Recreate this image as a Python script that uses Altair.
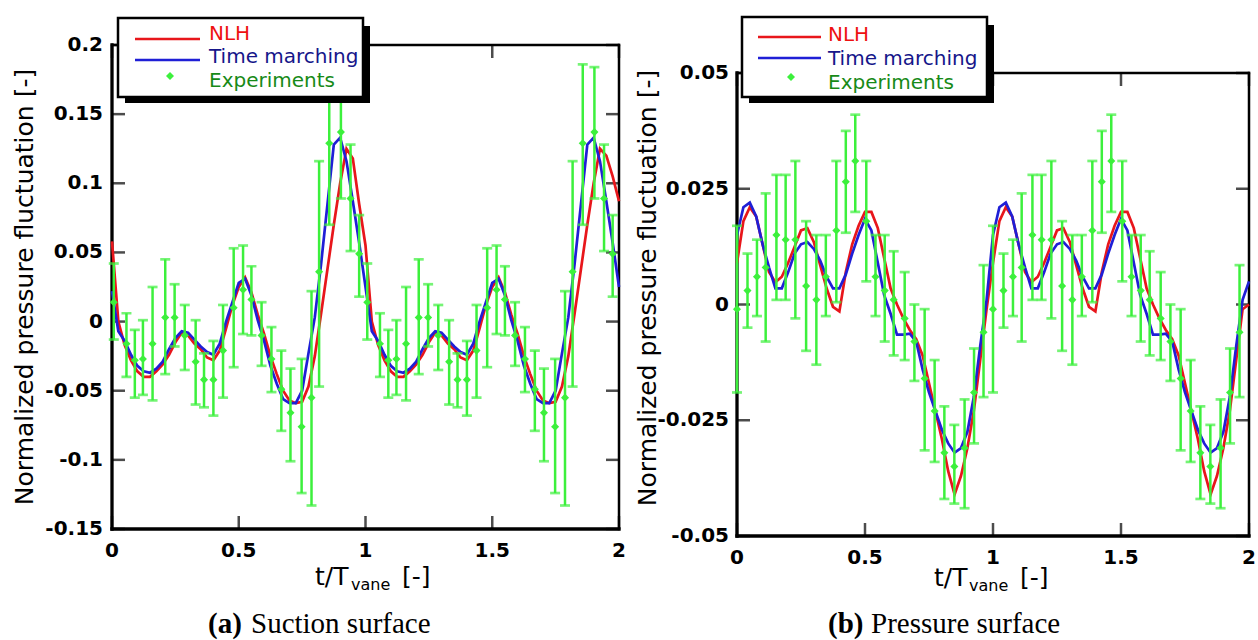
import altair as alt
import pandas as pd

# ---------------- data ----------------
X_TICKS = [0, 0.5, 1, 1.5, 2]
X_LABELS = ["0", "0.5", "1", "1.5", "2"]
Y_TICKS_A = [-0.15, -0.1, -0.05, 0, 0.05, 0.1, 0.15, 0.2]
Y_LABELS_A = ["-0.15", "-0.1", "-0.05", "0", "0.05", "0.1", "0.15", "0.2"]
Y_TICKS_B = [-0.05, -0.025, 0, 0.025, 0.05]
Y_LABELS_B = ["-0.05", "-0.025", "0", "0.025", "0.05"]

# sampling grid of the two computed curves (t/T_vane)
T_LINE = [round(i * 0.025, 3) for i in range(81)]

# (a) suction surface
A_NLH = [
    0.058, 0.000, -0.017, -0.028, -0.036, -0.040, -0.040, -0.036, -0.031, -0.024,
    -0.015, -0.008, -0.010, -0.016, -0.020, -0.026, -0.028, -0.021, -0.005, 0.012,
    0.025, 0.032, 0.021, 0.005, -0.009, -0.025, -0.038, -0.050, -0.057, -0.059,
    -0.058, -0.047, -0.025, 0.006, 0.038, 0.070, 0.100, 0.125, 0.118, 0.085,
    0.055, 0.000, -0.017, -0.028, -0.036, -0.040, -0.040, -0.036, -0.031, -0.024,
    -0.015, -0.008, -0.010, -0.016, -0.020, -0.026, -0.028, -0.021, -0.005, 0.012,
    0.025, 0.032, 0.021, 0.005, -0.009, -0.025, -0.038, -0.050, -0.057, -0.059,
    -0.058, -0.047, -0.025, 0.006, 0.038, 0.070, 0.100, 0.125, 0.120, 0.105,
    0.087,
]
A_TM = [
    0.022, -0.007, -0.014, -0.024, -0.032, -0.036, -0.037, -0.034, -0.029, -0.020,
    -0.012, -0.007, -0.008, -0.013, -0.018, -0.022, -0.024, -0.016, 0.000, 0.014,
    0.028, 0.031, 0.019, 0.001, -0.014, -0.032, -0.045, -0.056, -0.059, -0.059,
    -0.050, -0.023, 0.003, 0.042, 0.085, 0.128, 0.133, 0.116, 0.087, 0.057,
    0.025, -0.007, -0.014, -0.024, -0.032, -0.036, -0.037, -0.034, -0.029, -0.020,
    -0.012, -0.007, -0.008, -0.013, -0.018, -0.022, -0.024, -0.016, 0.000, 0.014,
    0.028, 0.031, 0.019, 0.001, -0.014, -0.032, -0.045, -0.056, -0.059, -0.059,
    -0.050, -0.023, 0.003, 0.042, 0.085, 0.128, 0.133, 0.116, 0.087, 0.057,
    0.025,
]
A_EXP_T = [
    0.007, 0.057, 0.090, 0.122, 0.160, 0.210, 0.247, 0.287, 0.330, 0.363, 0.400, 0.438, 0.480,
    0.517, 0.550, 0.590, 0.629, 0.668, 0.704, 0.748, 0.787, 0.817, 0.857, 0.903, 0.941, 0.975,
    1.007, 1.057, 1.090, 1.122, 1.160, 1.210, 1.247, 1.287, 1.330, 1.363, 1.400, 1.438, 1.480,
    1.517, 1.550, 1.590, 1.629, 1.668, 1.704, 1.748, 1.787, 1.817, 1.857, 1.903, 1.941, 1.975,
]
A_EXP_V = [
    0.014, -0.016, -0.028, -0.027, -0.016, 0.003, 0.003, -0.010, -0.029, -0.042, -0.042, -0.021, 0.010,
    0.023, 0.016, -0.010, -0.027, -0.049, -0.066, -0.076, -0.055, 0.036, 0.129, 0.137, 0.089, 0.049,
    0.014, -0.016, -0.028, -0.027, -0.016, 0.003, 0.003, -0.010, -0.029, -0.042, -0.042, -0.021, 0.010,
    0.023, 0.016, -0.010, -0.027, -0.049, -0.066, -0.076, -0.055, 0.036, 0.129, 0.137, 0.089, 0.049,
]
A_EXP_LO = [
    -0.013, -0.040, -0.055, -0.053, -0.057, -0.038, -0.018, -0.035, -0.060, -0.062, -0.068, -0.055, -0.033,
    -0.009, -0.010, -0.032, -0.051, -0.079, -0.101, -0.124, -0.133, -0.047, 0.070, 0.089, 0.051, 0.018,
    -0.013, -0.040, -0.055, -0.053, -0.057, -0.038, -0.018, -0.035, -0.060, -0.062, -0.068, -0.055, -0.033,
    -0.009, -0.010, -0.032, -0.051, -0.079, -0.101, -0.124, -0.133, -0.047, 0.070, 0.089, 0.051, 0.018,
]
A_EXP_HI = [
    0.042, 0.006, -0.006, 0.001, 0.025, 0.045, 0.027, 0.012, 0.001, -0.023, -0.014, 0.012, 0.053,
    0.055, 0.040, 0.014, -0.004, -0.021, -0.034, -0.027, 0.022, 0.116, 0.186, 0.184, 0.128, 0.077,
    0.042, 0.006, -0.006, 0.001, 0.025, 0.045, 0.027, 0.012, 0.001, -0.023, -0.014, 0.012, 0.053,
    0.055, 0.040, 0.014, -0.004, -0.021, -0.034, -0.027, 0.022, 0.116, 0.186, 0.184, 0.128, 0.077,
]

# (b) pressure surface
B_NLH = [
    0.009, 0.018, 0.021, 0.019, 0.013, 0.007, 0.0048, 0.006, 0.009, 0.0125,
    0.016, 0.0165, 0.0135, 0.0085, 0.0035, -0.0005, -0.0015, 0.007, 0.013, 0.017,
    0.020, 0.020, 0.0165, 0.010, 0.0035, 0.000, -0.003, -0.0055, -0.0075, -0.011,
    -0.017, -0.023, -0.029, -0.036, -0.041, -0.037, -0.031, -0.023, -0.012, -0.001,
    0.009, 0.018, 0.021, 0.019, 0.013, 0.007, 0.0048, 0.006, 0.009, 0.0125,
    0.016, 0.0165, 0.0135, 0.0085, 0.0035, -0.0005, -0.0015, 0.007, 0.013, 0.017,
    0.020, 0.020, 0.0165, 0.010, 0.0035, 0.000, -0.003, -0.0055, -0.0075, -0.011,
    -0.017, -0.023, -0.029, -0.036, -0.041, -0.037, -0.031, -0.023, -0.012, -0.001,
    0.000,
]
B_TM = [
    0.015, 0.021, 0.022, 0.019, 0.013, 0.008, 0.0035, 0.0035, 0.007, 0.011,
    0.013, 0.0135, 0.012, 0.0095, 0.006, 0.0035, 0.0035, 0.0065, 0.011, 0.015,
    0.0185, 0.016, 0.009, 0.002, -0.002, -0.0065, -0.0065, -0.0063, -0.008, -0.014,
    -0.019, -0.023, -0.027, -0.030, -0.032, -0.031, -0.0275, -0.020, -0.009, 0.001,
    0.015, 0.021, 0.022, 0.019, 0.013, 0.008, 0.0035, 0.0035, 0.007, 0.011,
    0.013, 0.0135, 0.012, 0.0095, 0.006, 0.0035, 0.0035, 0.0065, 0.011, 0.015,
    0.0185, 0.016, 0.009, 0.002, -0.002, -0.0065, -0.0065, -0.0063, -0.008, -0.014,
    -0.019, -0.023, -0.027, -0.030, -0.032, -0.031, -0.0275, -0.020, -0.009, 0.001,
    0.005,
]
B_EXP_T = [
    0.000, 0.041, 0.078, 0.112, 0.154, 0.190, 0.228, 0.270, 0.310, 0.347, 0.388, 0.425, 0.462,
    0.505, 0.541, 0.577, 0.612, 0.655, 0.693, 0.733, 0.772, 0.810, 0.849, 0.889, 0.926, 0.963,
    1.000, 1.041, 1.078, 1.112, 1.154, 1.190, 1.228, 1.270, 1.310, 1.347, 1.388, 1.425, 1.462,
    1.505, 1.541, 1.577, 1.612, 1.655, 1.693, 1.733, 1.772, 1.810, 1.849, 1.889, 1.926, 1.963,
]
B_EXP_V = [
    -0.001, 0.003, 0.006, 0.008, 0.015, 0.014, 0.014, 0.004, 0.001, 0.006, 0.016, 0.0265, 0.031,
    0.018, 0.006, 0.003, 0.001, -0.003, -0.008, -0.016, -0.023, -0.032, -0.035, -0.031, -0.019, -0.006,
    -0.001, 0.003, 0.006, 0.008, 0.015, 0.014, 0.014, 0.004, 0.001, 0.006, 0.016, 0.0265, 0.031,
    0.018, 0.006, 0.003, 0.001, -0.003, -0.008, -0.016, -0.023, -0.032, -0.035, -0.031, -0.019, -0.006,
]
B_EXP_LO = [
    -0.019, -0.005, -0.0025, -0.008, 0.001, 0.001, -0.003, -0.010, -0.013, -0.0025, 0.0005, 0.0155, 0.020,
    0.005, -0.0025, -0.008, -0.011, -0.012, -0.0165, -0.0315, -0.034, -0.042, -0.043, -0.044, -0.030, -0.020,
    -0.019, -0.005, -0.0025, -0.008, 0.001, 0.001, -0.003, -0.010, -0.013, -0.0025, 0.0005, 0.0155, 0.020,
    0.005, -0.0025, -0.008, -0.011, -0.012, -0.0165, -0.0315, -0.034, -0.042, -0.043, -0.044, -0.030, -0.020,
]
B_EXP_HI = [
    0.017, 0.011, 0.014, 0.024, 0.028, 0.028, 0.031, 0.018, 0.015, 0.015, 0.031, 0.0375, 0.041,
    0.031, 0.015, 0.015, 0.0115, 0.007, 0.000, -0.001, -0.012, -0.022, -0.026, -0.0205, -0.0095, 0.0085,
    0.017, 0.011, 0.014, 0.024, 0.028, 0.028, 0.031, 0.018, 0.015, 0.015, 0.031, 0.0375, 0.041,
    0.031, 0.015, 0.015, 0.0115, 0.007, 0.000, -0.001, -0.012, -0.022, -0.026, -0.0205, -0.0095, 0.0085,
]

# ---------------- styling ----------------
RED = "#e8161b"
BLUE = "#1f1fd6"
GREEN = "#3cf03c"
TXT_RED = "#ee1111"
TXT_BLUE = "#16168a"
TXT_GREEN = "#178a17"
SANS = "DejaVu Sans"
SERIF = "Liberation Serif"


def panel_layers(nlh, tm, et, ev, elo, ehi, ydom, yticks, ylabels, xr, yr, lay):
    xs = alt.Scale(domain=[0, 2], range=xr, nice=False, zero=False)
    ys = alt.Scale(domain=ydom, range=yr, nice=False, zero=False)

    def X(f):
        return alt.X(f, type="quantitative", scale=xs, axis=None)

    def Y(f):
        return alt.Y(f, type="quantitative", scale=ys, axis=None)

    one = pd.DataFrame({"d": [0]})
    lines = pd.DataFrame({"t": T_LINE, "nlh": nlh, "tm": tm})
    exp = pd.DataFrame({"t": et, "v": ev, "lo": elo, "hi": ehi})
    xt = pd.DataFrame({"t": X_TICKS, "lab": X_LABELS, "ymin": ydom[0], "ymax": ydom[1]})
    yt = pd.DataFrame({"v": yticks, "lab": ylabels, "xmin": 0, "xmax": 2})
    frame = pd.DataFrame({
        "x": [0, 0, 0, 2], "x2": [0, 2, 2, 2],
        "y": [ydom[0], ydom[0], ydom[1], ydom[0]], "y2": [ydom[1], ydom[0], ydom[1], ydom[1]],
        "w": [3.3, 3.3, 2.3, 2.5],
    })

    L = []
    # frame and inward ticks on the four sides
    L.append(alt.Chart(frame).mark_rule(color="black", strokeCap="square").encode(
        x=X("x"), x2="x2", y=Y("y"), y2="y2", strokeWidth=alt.StrokeWidth("w:Q", scale=None)))
    L.append(alt.Chart(yt).mark_tick(color="black", orient="horizontal", size=13, thickness=2.5,
                                     xOffset=6.5).encode(x=X("xmin"), y=Y("v")))
    L.append(alt.Chart(yt).mark_tick(color="black", orient="horizontal", size=13, thickness=2.5,
                                     xOffset=-6.5).encode(x=X("xmax"), y=Y("v")))
    L.append(alt.Chart(xt).mark_tick(color="black", orient="vertical", size=13, thickness=2.5,
                                     yOffset=-6.5).encode(x=X("t"), y=Y("ymin")))
    L.append(alt.Chart(xt).mark_tick(color="black", orient="vertical", size=13, thickness=2.5,
                                     yOffset=6.5).encode(x=X("t"), y=Y("ymax")))
    # tick labels
    L.append(alt.Chart(yt).mark_text(align="right", baseline="middle", font=SANS, fontWeight="bold",
                                     fontSize=20, color="black", dx=-lay["ylp"]).encode(
        x=X("xmin"), y=Y("v"), text="lab:N"))
    L.append(alt.Chart(xt).mark_text(align="center", baseline="top", font=SANS, fontWeight="bold",
                                     fontSize=20, color="black", dy=12).encode(
        x=X("t"), y=Y("ymin"), text="lab:N"))

    # data
    L.append(alt.Chart(lines).mark_line(color=RED, strokeWidth=2.7).encode(x=X("t"), y=Y("nlh")))
    L.append(alt.Chart(lines).mark_line(color=BLUE, strokeWidth=2.7).encode(x=X("t"), y=Y("tm")))
    L.append(alt.Chart(exp).mark_rule(color=GREEN, strokeWidth=2.5).encode(x=X("t"), y=Y("lo"), y2="hi"))
    L.append(alt.Chart(exp).mark_tick(color=GREEN, orient="horizontal", size=10, thickness=2.7).encode(
        x=X("t"), y=Y("lo")))
    L.append(alt.Chart(exp).mark_tick(color=GREEN, orient="horizontal", size=10, thickness=2.7).encode(
        x=X("t"), y=Y("hi")))
    L.append(alt.Chart(exp).mark_point(color=GREEN, shape="diamond", filled=True, size=65, opacity=1).encode(
        x=X("t"), y=Y("v")))

    # legend box with drop shadow
    bx0, bx1, by0, by1 = lay["box"]
    L.append(alt.Chart(one).mark_rect(color="black").encode(
        x=alt.value(bx0 + 7), x2=alt.value(bx1 + 7), y=alt.value(by0 + 8), y2=alt.value(by1 + 6)))
    L.append(alt.Chart(one).mark_rect(fill="white", stroke="black", strokeWidth=2.5).encode(
        x=alt.value(bx0), x2=alt.value(bx1), y=alt.value(by0), y2=alt.value(by1)))
    sx0, sx1 = lay["sample"]
    ry, bly, dx, dy = lay["sy"]
    L.append(alt.Chart(one).mark_rule(color=RED, strokeWidth=2.7).encode(
        x=alt.value(sx0), x2=alt.value(sx1), y=alt.value(ry)))
    L.append(alt.Chart(one).mark_rule(color=BLUE, strokeWidth=2.7).encode(
        x=alt.value(sx0), x2=alt.value(sx1), y=alt.value(bly)))
    L.append(alt.Chart(one).mark_point(color=GREEN, shape="diamond", filled=True, size=65, opacity=1).encode(
        x=alt.value(dx), y=alt.value(dy)))
    for label, col, yy in [("NLH", TXT_RED, lay["ty"][0]), ("Time marching", TXT_BLUE, lay["ty"][1]),
                           ("Experiments", TXT_GREEN, lay["ty"][2])]:
        L.append(alt.Chart(one).mark_text(text=label, font=SANS, fontSize=20, color=col,
                                          align="left", baseline="alphabetic").encode(
            x=alt.value(lay["tx"]), y=alt.value(yy)))

    # axis titles
    ytx, yty = lay["ytitle"]
    L.append(alt.Chart(one).mark_text(text="Normalized pressure fluctuation [-]", font=SANS, fontSize=25,
                                      angle=270, align="center", baseline="middle", color="black").encode(
        x=alt.value(ytx), y=alt.value(yty)))
    x1, x2, x3, xb = lay["xtitle"]
    L.append(alt.Chart(one).mark_text(text="t/T", font=SANS, fontSize=25, align="left",
                                      baseline="alphabetic", color="black").encode(x=alt.value(x1), y=alt.value(xb)))
    L.append(alt.Chart(one).mark_text(text="vane", font=SANS, fontSize=16, align="left",
                                      baseline="alphabetic", color="black").encode(x=alt.value(x2), y=alt.value(xb + 5)))
    L.append(alt.Chart(one).mark_text(text="[-]", font=SANS, fontSize=25, align="left",
                                      baseline="alphabetic", color="black").encode(x=alt.value(x3), y=alt.value(xb)))
    # caption
    c1, c2, cb, ltr, ctext = lay["caption"]
    L.append(alt.Chart(one).mark_text(text=ltr, font=SERIF, fontSize=29, fontWeight="bold", align="left",
                                      baseline="alphabetic", color="black").encode(x=alt.value(c1), y=alt.value(cb)))
    L.append(alt.Chart(one).mark_text(text=ctext, font=SERIF, fontSize=29, align="left",
                                      baseline="alphabetic", color="black").encode(x=alt.value(c2), y=alt.value(cb)))
    return L


lay_a = dict(ylp=9, box=(118, 363, 18, 97), sample=(135, 200), sy=(39, 60, 170, 76), tx=209,
             ty=(40, 63, 87), ytitle=(25, 287), xtitle=(315, 351, 402, 585),
             caption=(208, 251, 633, "(a)", "Suction surface"))
lay_b = dict(ylp=8, box=(742, 987, 17, 97), sample=(758, 821), sy=(37, 58, 791, 77), tx=828,
             ty=(41, 65, 89), ytitle=(648, 288), xtitle=(934, 969, 1020, 586),
             caption=(828, 871, 633, "(b)", "Pressure surface"))

layers = panel_layers(A_NLH, A_TM, A_EXP_T, A_EXP_V, A_EXP_LO, A_EXP_HI, [-0.15, 0.2],
                      Y_TICKS_A, Y_LABELS_A, [112, 619], [529, 45], lay_a)
layers += panel_layers(B_NLH, B_TM, B_EXP_T, B_EXP_V, B_EXP_LO, B_EXP_HI, [-0.05, 0.05],
                       Y_TICKS_B, Y_LABELS_B, [737, 1249], [536, 73], lay_b)

chart = alt.layer(*layers).resolve_scale(x="independent", y="independent").properties(
    width=1258, height=640, padding=0, autosize=alt.AutoSizeParams(type="none"),
    background="white",
).configure_view(strokeWidth=0)

chart.save("out.html", embed_options={"renderer": "svg", "actions": False})
